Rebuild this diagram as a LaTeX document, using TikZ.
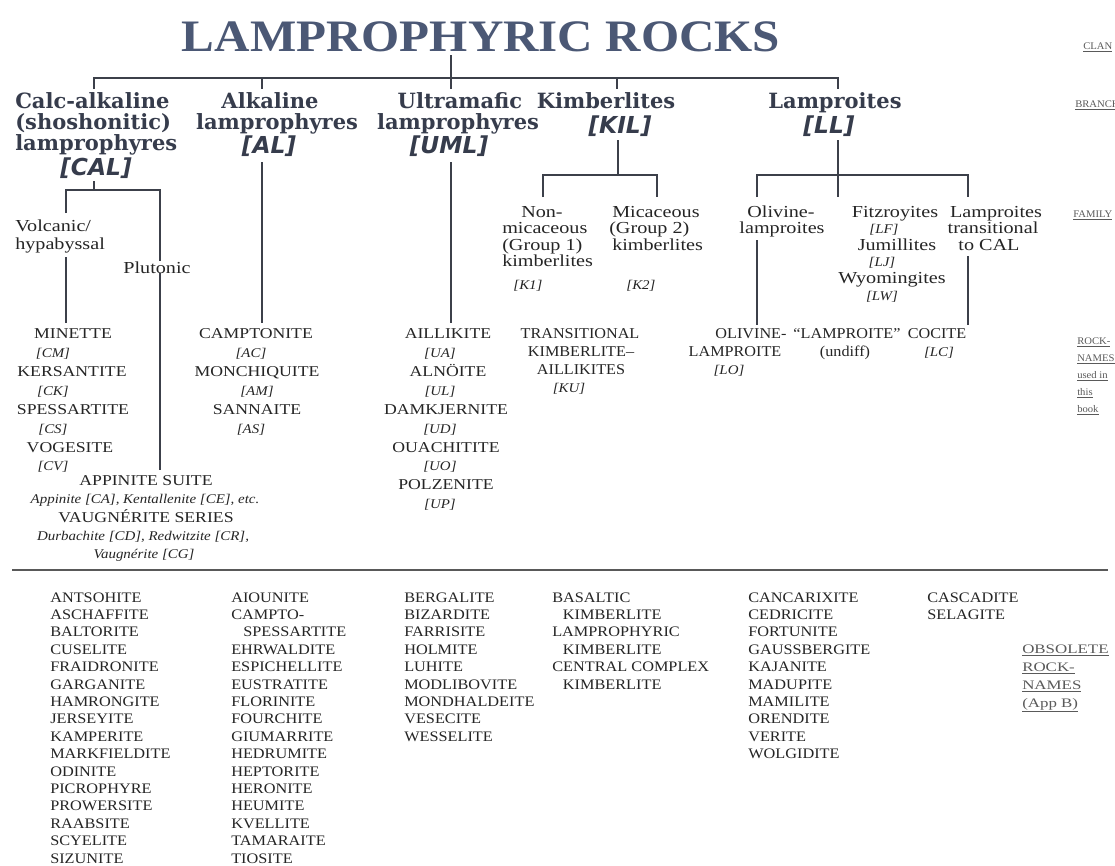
\documentclass[tikz,border=0pt]{standalone}
\usepackage{fontspec}
\setmainfont{Liberation Serif}
\newfontfamily\ttlff{Liberation Serif}[FakeStretch=1.09]
\newfontfamily\brff{DejaVu Serif}
\newfontfamily\cdff{DejaVu Sans}
\newfontfamily\fmff{Liberation Serif}[FakeStretch=1.2]
\newfontfamily\rkff{Liberation Serif}[FakeStretch=1.18]
\newfontfamily\rnff{Liberation Serif}[FakeStretch=1.08]
\newfontfamily\rcff{Liberation Serif}[FakeStretch=1.12]
\newfontfamily\obff{Liberation Serif}[FakeStretch=1.12]
\newfontfamily\lbff{Liberation Serif}[FakeStretch=1.3]
\newfontfamily\slff{Liberation Serif}[FakeStretch=1.05]
\definecolor{titlec}{HTML}{4B5875}
\definecolor{branchc}{HTML}{363C4C}
\definecolor{txtc}{HTML}{252525}
\definecolor{linec}{HTML}{3C404A}
\definecolor{lblc}{HTML}{5A5A5A}
\newcommand\myttl{\ttlff\bfseries\fontsize{33.75}{40}\selectfont}
\newcommand\mybr{\brff\bfseries\fontsize{15.75}{19}\selectfont}
\newcommand\mycd{\cdff\bfseries\itshape\fontsize{17.5}{20}\selectfont}
\newcommand\myfm{\fmff\fontsize{12.6}{15}\selectfont}
\newcommand\myrk{\rkff\fontsize{11.25}{14}\selectfont}
\newcommand\myrn{\rnff\fontsize{11.25}{14}\selectfont}
\newcommand\myrc{\rcff\itshape\fontsize{10}{12}\selectfont}
\newcommand\myob{\obff\fontsize{10.9}{13}\selectfont}
\newcommand\mylb{\lbff\fontsize{9.75}{12}\selectfont}
\newcommand\mysl{\slff\fontsize{7.6}{9}\selectfont}
\begin{document}
\begin{tikzpicture}[x=0.75pt,y=-0.75pt,
  conn/.style={draw=linec, line width=1.1pt},
  sepline/.style={draw=black!65, line width=2pt},
  br/.style={font=\mybr, text=branchc, inner sep=0pt, anchor=mid},
  brl/.style={br, anchor=mid west},
  bc/.style={font=\mycd, text=branchc, inner sep=0pt, anchor=mid},
  fam/.style={font=\myfm, text=txtc, inner sep=0pt, anchor=mid},
  faml/.style={fam, anchor=mid west},
  rk/.style={font=\myrk, text=txtc, inner sep=0pt, anchor=mid},
  rkn/.style={rk, font=\myrn},
  rc/.style={font=\myrc, text=txtc, inner sep=0pt, anchor=mid},
  ob/.style={font=\myob, text=txtc, inner sep=0pt, anchor=mid west},
  lb/.style={font=\mylb, text=lblc, inner sep=0pt, anchor=mid west},
  sl/.style={font=\mysl, text=lblc, inner sep=0pt, anchor=mid west}]
\useasboundingbox (0,0) rectangle (1115,865);
\clip (0,0) rectangle (1115,865);
\fill[white] (0,0) rectangle (1115,865);

% ---------- title and level labels
\node[font=\myttl, text=titlec, anchor=base, inner sep=0pt] (title) at (481,51) {LAMPROPHYRIC ROCKS};
\node[sl] (lclan) at (1083,46) {\underline{CLAN}};
\node[sl] (lbranch) at (1075,104) {\underline{BRANCH}};
\node[sl] (lfamily) at (1073,214) {\underline{FAMILY}};
\node[sl] (lrk1) at (1077,341) {\underline{ROCK-}};
\node[sl] (lrk2) at (1077,358) {\underline{NAMES}};
\node[sl] (lrk3) at (1077,375) {\underline{used in}};
\node[sl] (lrk4) at (1077,392) {\underline{this}};
\node[sl] (lrk5) at (1077,409) {\underline{book}};
\node[lb] (lob1) at (1022,650) {\underline{OBSOLETE}};
\node[lb] (lob2) at (1022,668) {\underline{ROCK-}};
\node[lb] (lob3) at (1022,686) {\underline{NAMES}};
\node[lb] (lob4) at (1022,704) {\underline{(App B)}};

% ---------- branches
\node[brl] (cal1) at (15,105) {Calc-alkaline};
\node[brl] (cal2) at (15,126) {(shoshonitic)};
\node[brl] (cal3) at (15,147) {lamprophyres};
\node[bc] (calc) at (96,172) {[CAL]};
\node[br] (al1) at (270,105) {Alkaline};
\node[br] (al2) at (277,126) {lamprophyres};
\node[bc] (alc) at (269,150) {[AL]};
\node[br] (um1) at (460,105) {Ultramafic};
\node[br] (um2) at (458,126) {lamprophyres};
\node[bc] (umc) at (449,150) {[UML]};
\node[br] (ki1) at (606,105) {Kimberlites};
\node[bc] (kic) at (620,130) {[KIL]};
\node[br] (la1) at (835,105) {Lamproites};
\node[bc] (lac) at (829,130) {[LL]};

% ---------- clan connectors
\coordinate (ts) at (451,55);
\coordinate (ja) at (94,78);   \coordinate (ea) at (94,89);
\coordinate (jb) at (262,78);  \coordinate (eb) at (262,89);
\coordinate (ec) at (451,89);
\coordinate (jd) at (617,78);  \coordinate (ed) at (617,89);
\coordinate (je) at (838,78);  \coordinate (ee) at (838,89);
\draw[conn] (ts) -- (ec);
\draw[conn] (ea) -- (ja) -- (je) -- (ee);
\draw[conn] (jb) -- (eb);
\draw[conn] (jd) -- (ed);

% ---------- CAL subtree
\coordinate (c0) at (94,181);
\coordinate (cb) at (94,190);
\coordinate (cbl) at (66,190);
\coordinate (cbr) at (160,190);
\coordinate (cvl1) at (66,213);
\coordinate (cvl2) at (66,257);
\coordinate (cvl3) at (66,323);
\coordinate (cvr) at (160,470);
\draw[conn] (c0) -- (cb);
\draw[conn] (cvl1) -- (cbl) -- (cbr) -- (cvr);
\draw[conn] (cvl2) -- (cvl3);
\node[faml] (volc) at (15,228) {Volcanic/};
\node[faml] (hyp) at (15,246) {hypabyssal};
\node[fam, fill=white, inner xsep=1pt] (plut) at (157,270) {Plutonic};

\node[rk] (minette) at (73,335) {MINETTE};
\node[rc] (cm) at (53,354) {[CM]};
\node[rk] (kersantite) at (72,373) {KERSANTITE};
\node[rc] (ck) at (53,392) {[CK]};
\node[rk] (spessartite) at (73,411) {SPESSARTITE};
\node[rc] (cs) at (53,430) {[CS]};
\node[rk] (vogesite) at (70,449) {VOGESITE};
\node[rc] (cv) at (53,467) {[CV]};
\node[rk] (appsuite) at (146,482) {APPINITE SUITE};
\node[rc] (appline) at (145,500) {Appinite [CA], Kentallenite [CE], etc.};
\node[rk] (vaugser) at (146,519) {VAUGNÉRITE SERIES};
\node[rc] (durb) at (143,537) {Durbachite [CD], Redwitzite [CR],};
\node[rc] (vaug) at (144,555) {Vaugnérite [CG]};

% ---------- AL subtree
\coordinate (alt) at (262,162);
\coordinate (alb) at (262,323);
\draw[conn] (alt) -- (alb);
\node[rk] (camp) at (256,335) {CAMPTONITE};
\node[rc] (ac) at (251,354) {[AC]};
\node[rk] (monch) at (257,373) {MONCHIQUITE};
\node[rc] (am) at (257,392) {[AM]};
\node[rk] (sann) at (257,411) {SANNAITE};
\node[rc] (as) at (251,430) {[AS]};

% ---------- UML subtree
\coordinate (umt) at (451,162);
\coordinate (umb) at (451,323);
\draw[conn] (umt) -- (umb);
\node[rk] (aill) at (448,335) {AILLIKITE};
\node[rc] (ua) at (440,354) {[UA]};
\node[rk] (alno) at (448,373) {ALNÖITE};
\node[rc] (ul) at (440,392) {[UL]};
\node[rk] (damk) at (446,411) {DAMKJERNITE};
\node[rc] (ud) at (440,430) {[UD]};
\node[rk] (ouach) at (446,449) {OUACHITITE};
\node[rc] (uo) at (440,467) {[UO]};
\node[rk] (polz) at (446,486) {POLZENITE};
\node[rc] (up) at (440,505) {[UP]};

% ---------- KIL subtree
\coordinate (kt) at (618,140);
\coordinate (kj) at (618,175);
\coordinate (kl) at (543,175); \coordinate (kle) at (543,197);
\coordinate (kr) at (657,175); \coordinate (kre) at (657,197);
\draw[conn] (kt) -- (kj);
\draw[conn] (kle) -- (kl) -- (kr) -- (kre);
\node[faml] (non) at (521,214) {Non-};
\node[faml] (mic1) at (502,230) {micaceous};
\node[faml] (grp1) at (502,247) {(Group 1)};
\node[faml] (kimb1) at (502,263) {kimberlites};
\node[rc] (k1) at (528,286) {[K1]};
\node[faml] (mic2) at (612,214) {Micaceous};
\node[faml] (grp2) at (609,230) {(Group 2)};
\node[faml] (kimb2) at (612,247) {kimberlites};
\node[rc] (k2) at (641,286) {[K2]};
\node[rkn] (trans) at (580,335) {TRANSITIONAL};
\node[rkn] (kimbtr) at (581,353) {KIMBERLITE–};
\node[rkn] (aillk) at (581,371) {AILLIKITES};
\node[rc] (ku) at (569,389) {[KU]};

% ---------- LL subtree
\coordinate (lt) at (838,140);
\coordinate (lj) at (838,197);
\coordinate (ll) at (757,175); \coordinate (lle) at (757,197);
\coordinate (lr) at (968,175); \coordinate (lre) at (968,197);
\draw[conn] (lt) -- (lj);
\draw[conn] (lle) -- (ll) -- (lr) -- (lre);
\node[fam] (oliv) at (781,214) {Olivine-};
\node[fam] (olivl) at (782,230) {lamproites};
\node[fam] (fitz) at (895,214) {Fitzroyites};
\node[rc] (lf) at (884,230) {[LF]};
\node[fam] (jum) at (897,247) {Jumillites};
\node[rc] (lj2) at (882,263) {[LJ]};
\node[fam] (wyo) at (892,280) {Wyomingites};
\node[rc] (lw) at (882,297) {[LW]};
\node[fam] (ltr1) at (996,214) {Lamproites};
\node[fam] (ltr2) at (993,230) {transitional};
\node[fam] (ltr3) at (989,247) {to CAL};
\coordinate (ovt) at (757,240); \coordinate (ovb) at (757,325);
\draw[conn] (ovt) -- (ovb);
\coordinate (trt) at (968,256); \coordinate (trb) at (968,325);
\draw[conn] (trt) -- (trb);
\node[rkn] (olrk) at (751,335) {OLIVINE-};
\node[rkn] (lamprk) at (735,353) {LAMPROITE};
\node[rc] (lo) at (729,371) {[LO]};
\node[rkn] (lampq) at (847,335) {“LAMPROITE”};
\node[rkn] (undiff) at (845,353) {(undiff)};
\node[rkn] (cocite) at (937,335) {COCITE};
\node[rc] (lc) at (939,353) {[LC]};

% ---------- separator
\coordinate (sl) at (12,570); \coordinate (sr) at (1108,570);
\draw[sepline] (sl) -- (sr);

% ---------- obsolete names
\foreach \t [count=\i from 0] in {ANTSOHITE,ASCHAFFITE,BALTORITE,CUSELITE,FRAIDRONITE,GARGANITE,HAMRONGITE,JERSEYITE,KAMPERITE,MARKFIELDITE,ODINITE,PICROPHYRE,PROWERSITE,RAABSITE,SCYELITE,SIZUNITE}
  \node[ob] (oa\i) at (50,599+17.4*\i) {\t};
\foreach \t [count=\i from 0] in {AIOUNITE,CAMPTO-,\hspace{9pt}SPESSARTITE,EHRWALDITE,ESPICHELLITE,EUSTRATITE,FLORINITE,FOURCHITE,GIUMARRITE,HEDRUMITE,HEPTORITE,HERONITE,HEUMITE,KVELLITE,TAMARAITE,TIOSITE}
  \node[ob] (ob\i) at (231,599+17.4*\i) {\t};
\foreach \t [count=\i from 0] in {BERGALITE,BIZARDITE,FARRISITE,HOLMITE,LUHITE,MODLIBOVITE,MONDHALDEITE,VESECITE,WESSELITE}
  \node[ob] (oc\i) at (404,599+17.4*\i) {\t};
\foreach \t [count=\i from 0] in {BASALTIC,\hspace{8pt}KIMBERLITE,LAMPROPHYRIC,\hspace{8pt}KIMBERLITE,CENTRAL COMPLEX,\hspace{8pt}KIMBERLITE}
  \node[ob] (od\i) at (552,599+17.4*\i) {\t};
\foreach \t [count=\i from 0] in {CANCARIXITE,CEDRICITE,FORTUNITE,GAUSSBERGITE,KAJANITE,MADUPITE,MAMILITE,ORENDITE,VERITE,WOLGIDITE}
  \node[ob] (oe\i) at (748,599+17.4*\i) {\t};
\foreach \t [count=\i from 0] in {CASCADITE,SELAGITE}
  \node[ob] (of\i) at (927,599+17.4*\i) {\t};
\end{tikzpicture}
\end{document}
